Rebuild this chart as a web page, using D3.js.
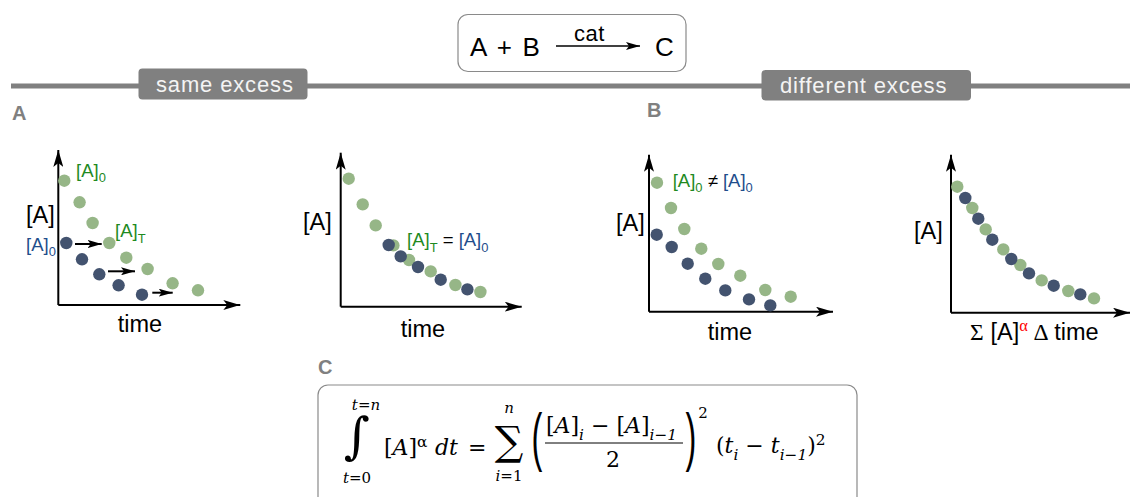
<!DOCTYPE html>
<html>
<head>
<meta charset="utf-8">
<script src="https://cdn.jsdelivr.net/npm/d3@7"></script>
<style>
  html, body { margin: 0; background: #fff; }
  svg { display: block; }
  text { font-family: "Liberation Sans", sans-serif; fill: #000; }
  .math text { font-family: "DejaVu Serif", serif; }
</style>
</head>
<body>
<script>
// values (time, [A]) in axis units
const aGreenTime = [6, 21.3, 34.3, 51, 68, 89.3, 114.3, 139.7];
const aGreenConc = [124.3, 102.7, 82, 62, 47.3, 36, 21.7, 14.7];
const aBlueTime = [8, 23.7, 41, 60.3, 83.7];
const aBlueConc = [62, 45.7, 30.7, 19.7, 10.3];
const aArrowStart = [16.7, 49.7, 94];
const aArrowEnd = [43.4, 76.7, 114.4];
const aArrowConc = [61, 33.7, 12.3];

const bGreenTime = [8, 22, 35, 52.7, 68.3, 90, 114.7, 139.7];
const bGreenConc = [128, 102.3, 81.3, 61.3, 46.7, 35.3, 21.7, 14.7];
const bBlueTime = [48, 60, 77.3, 100, 126.7];
const bBlueConc = [61.7, 50.3, 39.7, 27, 17.3];

const cGreenTime = [8, 22, 35.3, 52.3, 69.3, 91.3, 116.3, 141.7];
const cGreenConc = [129, 103.7, 82.7, 63, 47.7, 36, 21.7, 15];
const cBlueTime = [7.7, 22.7, 38.7, 56.3, 76.3, 100, 121.3];
const cBlueConc = [77, 64.7, 48, 33, 21.3, 12.3, 6.3];

const dGreenTime = [6.3, 21.3, 34.7, 52.3, 69.3, 90.7, 117.3, 143];
const dGreenConc = [126, 104.7, 83.3, 63.3, 47.7, 32.3, 21.7, 14.3];
const dBlueTime = [14.3, 27.3, 41.3, 60.3, 78, 102.7, 129.3];
const dBlueConc = [114.7, 94, 73, 53.7, 39.3, 27, 18.3];

const green = "#96b687", blue = "#43536f", grey = "#808080";
const textGreen = "#1f8a1f", textBlue = "#1f4e8c";

const width = 1130, height = 497;
const svg = d3.select("body").append("svg").attr("width", width).attr("height", height);

const defs = svg.append("defs");
function arrowMarker(id, len, half, notch) {
  defs.append("marker")
    .attr("id", id)
    .attr("markerUnits", "userSpaceOnUse")
    .attr("markerWidth", len).attr("markerHeight", half * 2)
    .attr("refX", len).attr("refY", half)
    .attr("orient", "auto")
    .append("path")
    .attr("d", `M0,0L${len},${half}L0,${half * 2}L${notch},${half}Z`)
    .attr("fill", "#000");
}
arrowMarker("axis-head", 17, 5, 4);
arrowMarker("small-head", 14, 4, 3);

// rich text: each part is [string, {sub, sup, fill, size, italic}]
function rich(g, x, y, size, parts, opts = {}) {
  const t = g.append("text").attr("x", x).attr("y", y).attr("font-size", size)
    .attr("text-anchor", opts.anchor || "start");
  if (opts.fill) t.style("fill", opts.fill);
  if (opts.spacing) t.attr("letter-spacing", opts.spacing);
  if (opts.wordSpacing) t.attr("word-spacing", opts.wordSpacing);
  let shift = 0;
  parts.forEach(([s, o = {}]) => {
    const sp = t.append("tspan").text(s);
    const want = o.sub ? size * 0.3 : o.sup ? -size * 0.38 : 0;
    sp.attr("dy", want - shift);
    shift = want;
    if (o.sub || o.sup) sp.attr("font-size", o.size || size * 0.7);
    else if (o.size) sp.attr("font-size", o.size);
    if (o.fill) sp.style("fill", o.fill);
    if (o.italic) sp.attr("font-style", "italic");
    if (o.family) sp.style("font-family", o.family);
  });
  return t;
}

// ---- header band
svg.append("rect").attr("x", 11).attr("y", 83.5).attr("width", width - 11).attr("height", 5).attr("fill", grey);

function pill(x0, x1, y0, y1, label, tx) {
  svg.append("rect").attr("x", x0).attr("y", y0).attr("width", x1 - x0).attr("height", y1 - y0)
    .attr("rx", 4).attr("fill", grey);
  rich(svg, tx, y1 - 8, 22, [[label]], { fill: "#f4f4f4", spacing: 0.85 });
}
pill(138.5, 307.5, 68.5, 99.5, "same excess", 156);
pill(761.5, 971, 70, 100.5, "different excess", 780);

[["A", 12, 120], ["B", 647, 117], ["C", 318, 374]].forEach(([s, x, y]) => {
  rich(svg, x, y, 20, [[s]], { fill: grey }).attr("font-weight", "bold");
});

// ---- reaction box
svg.append("rect").attr("x", 458).attr("y", 14.5).attr("width", 228).attr("height", 57)
  .attr("rx", 10).attr("fill", "none").attr("stroke", "#8a8a8a").attr("stroke-width", 1.2);
rich(svg, 470, 56, 26, [["A + B"]], { wordSpacing: 3.5 });
rich(svg, 655, 56, 26, [["C"]]);
rich(svg, 574, 40.5, 22, [["cat"]], { spacing: 0.5 });
svg.append("line").attr("x1", 556).attr("x2", 640).attr("y1", 46).attr("y2", 46)
  .attr("stroke", "#000").attr("stroke-width", 1.5).attr("marker-end", "url(#small-head)");

// ---- panels
function panel(o) {
  const x = d3.scaleLinear().domain([0, o.xLen]).range([o.x0, o.x0 + o.xLen]);
  const y = d3.scaleLinear().domain([0, o.yLen]).range([o.y0, o.y0 - o.yLen]);
  const g = svg.append("g");

  const axisX = g.append("g").attr("transform", `translate(0,${o.y0})`)
    .call(d3.axisBottom(x).tickValues([]).tickSizeOuter(0).offset(0));
  const axisY = g.append("g").attr("transform", `translate(${o.x0},0)`)
    .call(d3.axisLeft(y).tickValues([]).tickSizeOuter(0).offset(0));
  [axisX, axisY].forEach(a => a.select(".domain")
    .attr("stroke", "#000").attr("stroke-width", 2).attr("marker-end", "url(#axis-head)"));
  // axisLeft draws bottom to top only if range is; force the head on the far end
  axisY.select(".domain").attr("d", `M0,${y(0)}V${y(o.yLen)}`);

  o.series.forEach(([t, c, fill]) => {
    g.append("g").selectAll("circle").data(t).join("circle")
      .attr("cx", d => x(d))
      .attr("cy", (d, i) => y(c[i]))
      .attr("r", 6.2)
      .attr("fill", fill);
  });

  if (o.arrows) {
    g.append("g").selectAll("line").data(o.arrows[0]).join("line")
      .attr("x1", d => x(d))
      .attr("x2", (d, i) => x(o.arrows[1][i]))
      .attr("y1", (d, i) => y(o.arrows[2][i]))
      .attr("y2", (d, i) => y(o.arrows[2][i]))
      .attr("stroke", "#000").attr("stroke-width", 2)
      .attr("marker-end", "url(#small-head)");
  }
}

panel({ x0: 58.3, y0: 305, xLen: 182, yLen: 155,
  series: [[aGreenTime, aGreenConc, green], [aBlueTime, aBlueConc, blue]],
  arrows: [aArrowStart, aArrowEnd, aArrowConc] });
panel({ x0: 340.7, y0: 306.7, xLen: 181, yLen: 154,
  series: [[bGreenTime, bGreenConc, green], [bBlueTime, bBlueConc, blue]] });
panel({ x0: 649, y0: 311.7, xLen: 184, yLen: 157,
  series: [[cGreenTime, cGreenConc, green], [cBlueTime, cBlueConc, blue]] });
panel({ x0: 951, y0: 312.7, xLen: 179, yLen: 158,
  series: [[dGreenTime, dGreenConc, green], [dBlueTime, dBlueConc, blue]] });

// panel labels
const big = 23.5, small = 18.5;
rich(svg, 26, 223, big, [["[A]"]]);
rich(svg, 76, 176.7, small, [["[A]", { fill: textGreen }], ["0", { sub: true, fill: textGreen }]]);
rich(svg, 115, 237, small, [["[A]", { fill: textGreen }], ["T", { sub: true, fill: textGreen }]]);
rich(svg, 26, 250.7, small, [["[A]", { fill: textBlue }], ["0", { sub: true, fill: textBlue }]]);
rich(svg, 140, 331.7, big, [["time"]], { anchor: "middle" });

rich(svg, 303, 230, big, [["[A]"]]);
rich(svg, 407, 246, small, [["[A]", { fill: textGreen }], ["T", { sub: true, fill: textGreen }],
  [" = "], ["[A]", { fill: textBlue }], ["0", { sub: true, fill: textBlue }]]);
rich(svg, 423, 336.7, big, [["time"]], { anchor: "middle" });

rich(svg, 616, 230.7, big, [["[A]"]]);
rich(svg, 672.7, 186.7, small, [["[A]", { fill: textGreen }], ["0", { sub: true, fill: textGreen }],
  [" ≠ "], ["[A]", { fill: textBlue }], ["0", { sub: true, fill: textBlue }]]);
rich(svg, 730, 340, big, [["time"]], { anchor: "middle" });

rich(svg, 914, 239, big, [["[A]"]]);
rich(svg, 970, 340, big, [["Σ ", { family: "Liberation Serif" }], ["[A]"],
  ["α", { sup: true, fill: "#ff0000", family: "Liberation Serif" }], [" Δ ", { family: "Liberation Serif" }], ["time"]], { wordSpacing: 1 });

// ---- equation box (runs off the bottom of the page)
svg.append("rect").attr("x", 318).attr("y", 385).attr("width", 539).attr("height", 140)
  .attr("rx", 10).attr("fill", "none").attr("stroke", "#8a8a8a").attr("stroke-width", 1.2);

const eq = svg.append("g").attr("class", "math");
const it = { italic: true };
const eqSize = 22;
rich(eq, 366, 410, 15, [["t", it], ["=", {}], ["n", it]], { anchor: "middle" });
rich(eq, 357, 483, 15, [["t", it], ["=0", {}]], { anchor: "middle" });
rich(eq, 357, 453, 50, [["∫", {}]], { anchor: "middle" });
rich(eq, 384, 455, eqSize, [["[", {}], ["A", it], ["]", {}], ["α", { sup: true }]]);
rich(eq, 435, 455, eqSize, [["dt", it]]);
rich(eq, 468, 455, eqSize, [["=", {}]]);
rich(eq, 509, 413, 15, [["n", it]], { anchor: "middle" });
rich(eq, 509, 481, 15, [["i", it], ["=1", {}]], { anchor: "middle" });
rich(eq, 509, 455, 40, [["∑", {}]], { anchor: "middle" });
function bigParen(s, x) {
  rich(eq, 0, 0, 65, [[s, {}]], { anchor: "middle" })
    .style("font-family", "Liberation Sans")
    .attr("transform", `translate(${x},459) scale(0.5,1)`);
}
bigParen("(", 537);
rich(eq, 546, 433, eqSize, [["[", {}], ["A", it], ["]", {}], ["i", { sub: true, italic: true }],
  [" − [", {}], ["A", it], ["]", {}], ["i−1", { sub: true, italic: true }]]);
eq.append("line").attr("x1", 545).attr("x2", 683).attr("y1", 443).attr("y2", 443)
  .attr("stroke", "#000").attr("stroke-width", 1);
rich(eq, 613, 467, eqSize, [["2", {}]], { anchor: "middle" });
bigParen(")", 691);
rich(eq, 703, 418, 15, [["2", {}]], { anchor: "middle" });
rich(eq, 716, 453, eqSize, [["(", {}], ["t", it], ["i", { sub: true, italic: true }], [" −  ", {}],
  ["t", it], ["i−1", { sub: true, italic: true }], [")", {}], ["2", { sup: true }]]);
</script>
</body>
</html>
